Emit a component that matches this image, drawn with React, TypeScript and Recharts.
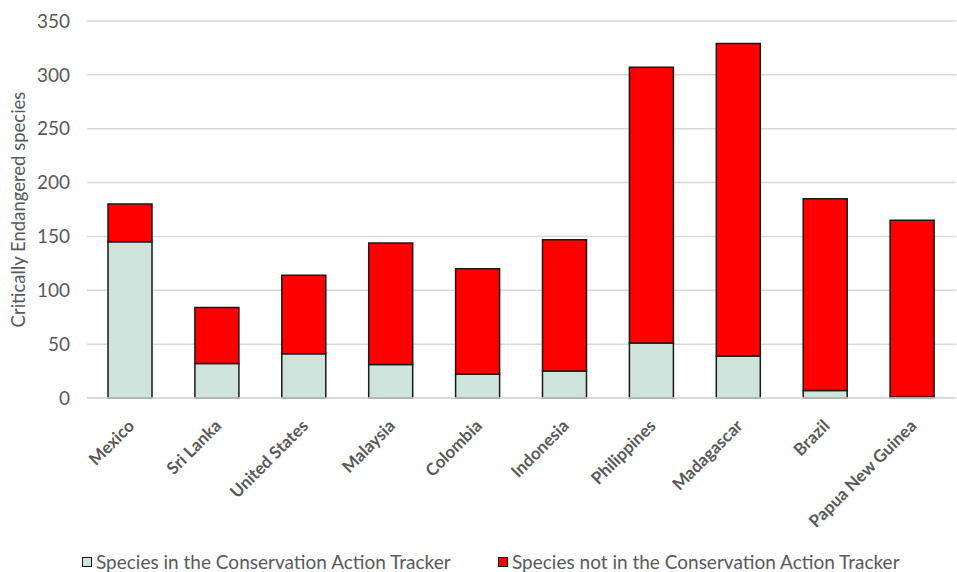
import React from "react";
import { BarChart, Bar, XAxis, YAxis, CartesianGrid, Legend } from "recharts";

const countries = [
  "Mexico",
  "Sri Lanka",
  "United States",
  "Malaysia",
  "Colombia",
  "Indonesia",
  "Philippines",
  "Madagascar",
  "Brazil",
  "Papua New Guinea",
];
const inTracker = [145, 32, 41, 31, 22, 25, 51, 39, 7, 1];
const notInTracker = [35, 52, 73, 113, 98, 122, 256, 290, 178, 164];
const yTicks = [0, 50, 100, 150, 200, 250, 300, 350];

const GREEN = "#cde3dc";
const RED = "#ff0000";
const TEXT = "#595959";
const FONT = "Lato, 'Open Sans', sans-serif";

const data = countries.map((country, i) => ({
  country,
  inTracker: inTracker[i],
  notInTracker: notInTracker[i],
}));

const CountryTick = (props: any) => {
  const { x, y, payload } = props;
  return (
    <g transform={`translate(${x + 5},${y + 21})`}>
      <text
        textAnchor="end"
        transform="rotate(-45)"
        fill={TEXT}
        fontSize={17}
        fontWeight={700}
        fontFamily={FONT}
      >
        {payload.value}
      </text>
    </g>
  );
};

const LegendBox = () => (
  <div style={{ position: "relative", height: 28, fontFamily: FONT, fontSize: 19, color: TEXT }}>
    {[
      { label: "Species in the Conservation Action Tracker", color: GREEN, left: 82 },
      { label: "Species not in the Conservation Action Tracker", color: RED, left: 498 },
    ].map((item) => (
      <div
        key={item.label}
        style={{
          position: "absolute",
          left: item.left,
          top: 7,
          display: "flex",
          alignItems: "center",
          lineHeight: "22px",
          whiteSpace: "nowrap",
        }}
      >
        <span
          style={{
            display: "inline-block",
            width: 8,
            height: 8,
            background: item.color,
            border: "1.5px solid #1a1a1a",
            marginRight: 4,
          }}
        />
        {item.label}
      </div>
    ))}
  </div>
);

export default function App() {
  return (
    <div style={{ position: "absolute", left: 0, top: 0, width: 957, height: 572, background: "#fff" }}>
      <BarChart
        width={957}
        height={572}
        data={data}
        margin={{ top: 21, right: 1, left: 0, bottom: 0 }}
        barSize={44}
      >
        <CartesianGrid vertical={false} stroke="#d9d9d9" strokeWidth={1.5} />
        <XAxis
          dataKey="country"
          interval={0}
          height={146}
          tickLine={false}
          axisLine={{ stroke: "#d9d9d9", strokeWidth: 1.5 }}
          tick={<CountryTick />}
        />
        <YAxis
          width={87}
          domain={[0, 350]}
          ticks={yTicks}
          axisLine={false}
          tickLine={false}
          tickMargin={11}
          tick={{ fill: TEXT, fontSize: 19, fontFamily: FONT }}
          label={{
            value: "Critically Endangered species",
            angle: -90,
            position: "center",
            dx: -25,
            fill: TEXT,
            fontSize: 18.5,
            fontFamily: FONT,
          }}
        />
        <Legend verticalAlign="bottom" wrapperStyle={{ left: 0, width: 957 }} content={<LegendBox />} />
        <Bar
          dataKey="inTracker"
          stackId="a"
          fill={GREEN}
          stroke="#1a1a1a"
          strokeWidth={1.5}
          isAnimationActive={false}
        />
        <Bar
          dataKey="notInTracker"
          stackId="a"
          fill={RED}
          stroke="#1a1a1a"
          strokeWidth={1.5}
          isAnimationActive={false}
        />
      </BarChart>
    </div>
  );
}
